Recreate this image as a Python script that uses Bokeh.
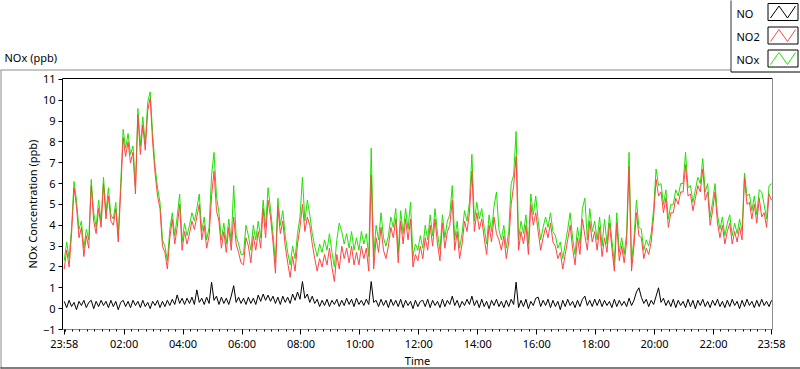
from bokeh.plotting import figure
from bokeh.models import Range1d, LinearAxis, FixedTicker, SingleIntervalTicker, ColumnDataSource
from bokeh.embed import file_html
from bokeh.resources import INLINE
from bokeh.core.properties import value

# ---------------- data (5-minute samples, minutes since 23:58) ----------------
no2_a = [1.9,2.8,2.0,3.6,5.8,4.9,3.4,3.9,2.5,3.5, 2.9,5.9,4.2,3.6,4.8,3.9,6.0,4.3,5.4,4.2,
         4.0,4.8,3.2,5.6,8.2,7.3,8.0,7.0,7.5,5.5, 9.3,7.4,8.8,7.6,9.5,10.1,8.0,6.5,5.4,4.8,
         3.0,2.7,1.9,3.4,4.3,3.1,3.9,5.0,2.8,3.7, 3.1,3.6,4.2,3.8,4.4,5.0,3.3,4.0,2.9,3.5,
         5.4,6.6,4.7,4.2,2.9,3.7,2.7,3.9,2.8,4.4, 3.1,2.7,2.2]
no2_b = [2.1,3.4,3.0,2.2,3.5,2.8,3.7,2.9,4.8,3.4, 5.2,4.4,3.2,1.7,4.9,3.6,4.2,3.0,2.2,1.5,
         2.5,1.8,3.1,3.9,5.0,3.7,4.4,4.0,3.1,2.4, 1.8,2.4,2.0,2.6,2.1,2.9,2.0,1.3,2.6,1.9,
         3.0,2.4,2.9,2.2,3.0,2.1,2.7,2.1,3.0,2.4, 2.9,1.8,6.4,1.9,3.4,2.7,3.9,2.8,2.4,3.0,
         3.9,3.4,4.3,2.2,4.2,3.1,4.3,3.3,4.3,2.0, 2.6,2.3,3.0]
no2_c = [2.4,3.4,2.8,4.0,3.0,4.3,3.1,2.3,4.1,2.9, 3.7,4.0,5.2,2.8,3.7,2.4,3.1,4.2,3.7,4.6,
         6.6,3.7,4.6,3.8,4.3,3.4,2.6,4.0,3.2,4.4, 3.6,3.3,2.8,3.5,2.4,3.2,5.0,5.9,7.3,2.8,
         3.7,3.1,4.0,2.6,5.0,4.0,4.6,3.7,2.8,3.4, 3.9,3.4,4.1,3.2,3.0,2.4,2.7,1.9,2.6,3.3,
         4.0,2.9,2.1,3.4,2.6,4.3,3.5,2.8,4.2,3.2, 3.7,2.8]
no2_d = [3.9,2.5,3.4,2.7,4.1,2.9,1.8,4.1,2.3,3.0, 2.2,3.2,6.8,1.8,3.0,4.6,3.5,3.4,2.4,2.9,
         2.6,3.2,4.4,6.2,5.4,5.6,4.6,5.3,3.9,4.6, 4.6,5.3,5.0,5.6,5.6,6.9,5.4,5.5,4.7,5.3,
         5.9,5.6,6.7,5.2,5.6,4.0,4.7,5.6,4.1,3.4, 4.0,3.1,3.7,4.1,3.1,3.7,3.2,3.9,3.3,6.3,
         5.0,5.1,4.3,5.0,4.1,5.3,4.4,4.6,3.9,5.5, 5.2]

nox_a = [2.3,3.2,2.4,3.9,6.1,5.2,3.8,4.2,2.9,3.8, 3.3,6.2,4.6,3.9,5.2,4.2,6.3,4.6,5.8,4.5,
         4.3,5.1,3.5,6.0,8.6,7.7,8.4,7.4,7.8,5.9, 9.6,7.8,9.2,7.9,9.9,10.4,8.4,6.8,5.8,5.1,
         3.3,3.0,2.3,3.8,4.6,3.5,4.4,5.5,3.2,4.1, 3.5,4.0,4.6,4.2,4.8,5.5,3.7,4.4,3.3,3.9,
         6.4,7.5,5.4,4.6,3.3,4.1,3.1,4.3,3.2,5.9, 3.5,3.1,2.6]
nox_b = [2.6,4.0,3.5,2.8,4.0,3.3,4.2,3.4,5.2,3.9, 5.8,4.8,3.6,2.2,5.3,4.0,4.7,3.5,2.7,2.1,
         3.0,2.4,3.6,4.4,6.3,4.2,5.2,4.5,3.6,3.0, 2.5,3.1,2.7,3.3,2.8,3.6,2.7,2.0,3.3,4.1,
         3.7,3.1,3.6,2.9,3.7,2.8,3.4,2.8,3.7,3.1, 3.6,2.5,7.7,2.5,4.0,3.3,4.6,3.4,3.0,3.5,
         4.4,3.9,4.8,2.7,4.7,3.6,4.8,3.8,5.1,2.5, 3.1,2.8,3.5]
nox_c = [2.9,4.0,3.3,4.5,3.5,4.8,3.6,2.8,4.5,3.4, 4.2,4.5,5.9,3.3,4.2,2.9,3.6,4.7,4.2,5.1,
         7.4,4.2,5.1,4.3,4.8,3.9,3.1,4.5,3.7,4.9, 5.6,3.8,3.3,4.0,2.9,3.7,6.0,6.4,8.5,3.3,
         4.2,3.6,4.5,3.1,5.5,4.5,5.4,4.2,3.3,3.9, 4.4,3.9,4.6,3.7,3.5,2.9,3.2,2.4,3.1,3.8,
         4.6,3.4,2.6,3.9,3.1,4.8,5.3,3.3,4.8,3.7, 4.2,3.3]
nox_d = [4.4,3.0,4.3,3.1,4.5,3.3,2.2,4.6,2.7,3.4, 2.6,3.6,7.5,2.2,3.4,5.2,3.9,3.8,2.8,3.3,
         3.0,3.6,4.8,6.7,5.9,6.0,5.0,5.7,4.3,5.0, 5.0,5.7,5.4,6.0,6.0,7.5,5.8,5.9,5.1,5.7,
         6.3,6.0,7.2,5.6,6.0,4.4,5.1,6.0,4.5,3.8, 4.4,3.5,4.1,4.5,3.5,4.1,3.6,4.3,3.7,6.5,
         5.4,5.5,4.7,5.4,4.5,5.7,5.6,5.0,4.3,5.9, 6.0]

no_a = [0.35,0.05,0.4,0.1,0.3,-0.05,0.35,0.15,0.4,0.05, 0.3,0.4,0.0,0.35,0.1,0.4,0.15,0.35,0.05,0.4,
        0.1,0.35,-0.05,0.3,0.4,0.1,0.35,0.05,0.4,0.15, 0.35,0.05,0.4,0.1,0.3,0.0,0.35,0.15,0.4,0.05,
        0.35,0.1,0.4,0.15,0.45,0.2,0.66,0.25,0.5,0.2, 0.5,0.25,0.55,0.2,0.9,0.3,0.5,0.2,0.55,0.25,
        1.27,0.4,0.6,0.2,0.55,0.25,0.5,0.2,0.6,1.1, 0.3,0.55,0.25]
no_b = [0.5,0.2,0.55,0.25,0.5,0.2,0.65,0.35,0.7,0.4, 0.65,0.35,0.6,0.25,0.55,0.2,0.6,0.3,0.55,0.25,
        0.7,0.4,0.8,0.45,1.3,0.5,0.7,0.3,0.6,0.25, 0.45,0.1,0.4,0.15,0.45,0.1,0.4,0.2,0.45,0.1,
        0.4,0.15,0.5,0.2,0.45,0.1,0.5,0.2,0.4,0.15, 0.45,0.2,1.3,0.3,0.4,0.1,0.45,0.15,0.4,0.05,
        0.45,0.15,0.4,0.1,0.45,0.05,0.4,0.15,0.35,0.0, 0.4,0.1,0.35]
no_c = [0.4,0.1,0.45,0.05,0.4,0.15,0.35,0.05,0.45,0.1, 0.4,0.2,0.6,0.15,0.4,0.05,0.35,0.15,0.45,0.2,
        0.6,0.15,0.4,0.05,0.45,0.1,0.35,0.0,0.4,0.15, 0.45,0.1,0.35,0.05,0.4,0.1,0.45,0.2,1.27,0.05,
        0.4,0.1,0.45,0.0,0.35,0.15,0.5,0.55,0.1,0.4, 0.15,0.45,0.05,0.4,0.1,0.35,-0.05,0.4,0.1,0.45,
        0.15,0.35,0.05,0.4,0.1,0.45,0.6,0.15,0.4,0.1, 0.45,0.15]
no_d = [0.45,0.1,0.4,0.15,0.35,0.05,0.45,0.1,0.4,0.15, 0.35,0.1,0.5,0.15,0.4,0.8,1.0,0.55,0.25,0.45,
        0.1,0.4,0.2,0.6,1.0,0.3,0.5,0.15,0.4,0.1, 0.45,0.05,0.4,0.15,0.35,0.05,0.45,0.1,0.4,0.0,
        0.4,0.15,0.45,0.1,0.35,0.05,0.4,0.15,0.45,0.1, 0.35,0.05,0.4,0.1,0.45,0.15,0.35,0.0,0.4,0.1,
        0.45,0.15,0.35,0.05,0.4,0.1,0.45,0.15,0.35,0.1, 0.4]

no2 = no2_a + no2_b + no2_c + no2_d
nox = nox_a + nox_b + nox_c + nox_d
no = no_a + no_b + no_c + no_d
minutes = [5 * i for i in range(len(no2))]

tick_pos = [0, 122, 242, 362, 482, 602, 722, 842, 962, 1082, 1202, 1322, 1440]
tick_lab = ["23:58", "02:00", "04:00", "06:00", "08:00", "10:00", "12:00",
            "14:00", "16:00", "18:00", "20:00", "22:00", "23:58"]
minor_pos = [2 + 15 * k for k in range(96)]

series_names = ["NO", "NO2", "NOx"]
series_colors = ["#000000", "#ff4545", "#22e000"]

FONT = "Noto Sans"
FS = "11px"

# ---------------- single canvas (800x369): frame at px (62..772, 78..329) ----------------
p = figure(frame_width=710, frame_height=251,
           x_range=Range1d(-3.5, 1442), y_range=Range1d(-1.0, 11.04),
           x_axis_type=None, y_axis_type=None, toolbar_location=None, output_backend="svg",
           min_border_left=62, min_border_right=28, min_border_top=78, min_border_bottom=39)
p.outline_line_color = None
p.background_fill_color = "white"
p.border_fill_color = "white"

src = ColumnDataSource(dict(t=minutes, no=no, no2=no2, nox=nox))
p.line("t", "nox", source=src, line_color=series_colors[2], line_width=1)
p.line("t", "no2", source=src, line_color=series_colors[1], line_width=1)
p.line("t", "no", source=src, line_color=series_colors[0], line_width=1)

yax = LinearAxis(ticker=SingleIntervalTicker(interval=1, num_minor_ticks=0),
                 axis_label="NOx Concentration (ppb)")
yax.axis_line_color = "black"
yax.major_tick_in = 0
yax.major_tick_out = 4
yax.minor_tick_out = 0
yax.major_label_standoff = 3
yax.axis_label_standoff = 0
p.add_layout(yax, "left")

xax = LinearAxis(ticker=FixedTicker(ticks=tick_pos, minor_ticks=minor_pos),
                 axis_label="Time",
                 major_label_overrides={k: v for k, v in zip(tick_pos, tick_lab)})
xax.axis_line_color = "#8c8c8c"
xax.major_tick_in = 0
xax.major_tick_out = 5
xax.minor_tick_in = 0
xax.minor_tick_out = 2
xax.major_label_standoff = 1
xax.axis_label_standoff = -1
p.add_layout(xax, "below")

for ax in (yax, xax):
    ax.major_label_text_font = FONT
    ax.major_label_text_font_size = FS
    ax.major_label_text_color = "black"
    ax.axis_label_text_font = FONT
    ax.axis_label_text_font_size = FS
    ax.axis_label_text_font_style = "normal"
    ax.axis_label_text_color = "black"
    ax.major_tick_line_color = "black"
    ax.minor_tick_line_color = "black"

for loc, col in (("above", "black"), ("right", "#8c8c8c")):
    ax = LinearAxis(ticker=FixedTicker(ticks=[]), axis_line_color=col,
                    major_tick_out=0, major_tick_in=0, minor_tick_out=0, minor_tick_in=0,
                    major_label_standoff=0, major_label_text_font_size="0px")
    p.add_layout(ax, loc)

# ---------------- decoration outside the frame (page-pixel ranges) ----------------
p.extra_x_ranges = {"px": Range1d(62, 772)}
p.extra_y_ranges = {"py": Range1d(329, 78)}
kw = dict(x_range_name="px", y_range_name="py", level="overlay")

p.text(x=[4], y=[57], text=["NOx (ppb)"], text_font=value(FONT), text_font_size=FS,
       text_baseline="middle", text_align="left", text_color="black", **kw)
# panel frame
p.line([0, 730.5], [69.5, 69.5], line_color="#8c8c8c", line_width=1, **kw)
p.line([0.5, 0.5], [69.5, 368], line_color="#8c8c8c", line_width=1, **kw)
p.line([0, 800], [367.5, 367.5], line_color="#000000", line_width=1, **kw)
# legend frame
p.line([730.5, 730.5], [0, 71.5], line_color="#303030", line_width=1, **kw)
p.line([730.5, 800], [71.5, 71.5], line_color="#000000", line_width=1, **kw)

row_y = [13, 36, 59]
box_c = [11.5, 35, 58]
p.text(x=[736] * 3, y=row_y, text=series_names, text_font=value(FONT), text_font_size=FS,
       text_baseline="middle", text_align="left", text_color="black", **kw)
p.quad(left=[767.5] * 3, right=[797.5] * 3, top=[cy - 8.5 for cy in box_c],
       bottom=[cy + 8.5 for cy in box_c], fill_color="white", line_color="black",
       line_width=1, **kw)
for cy, c in zip(box_c, series_colors):
    p.line([770, 778.5, 787, 795], [cy + 6, cy - 6, cy + 6, cy - 6],
           line_color=c, line_width=1, **kw)

open("out.html", "w").write(file_html(p, INLINE))
